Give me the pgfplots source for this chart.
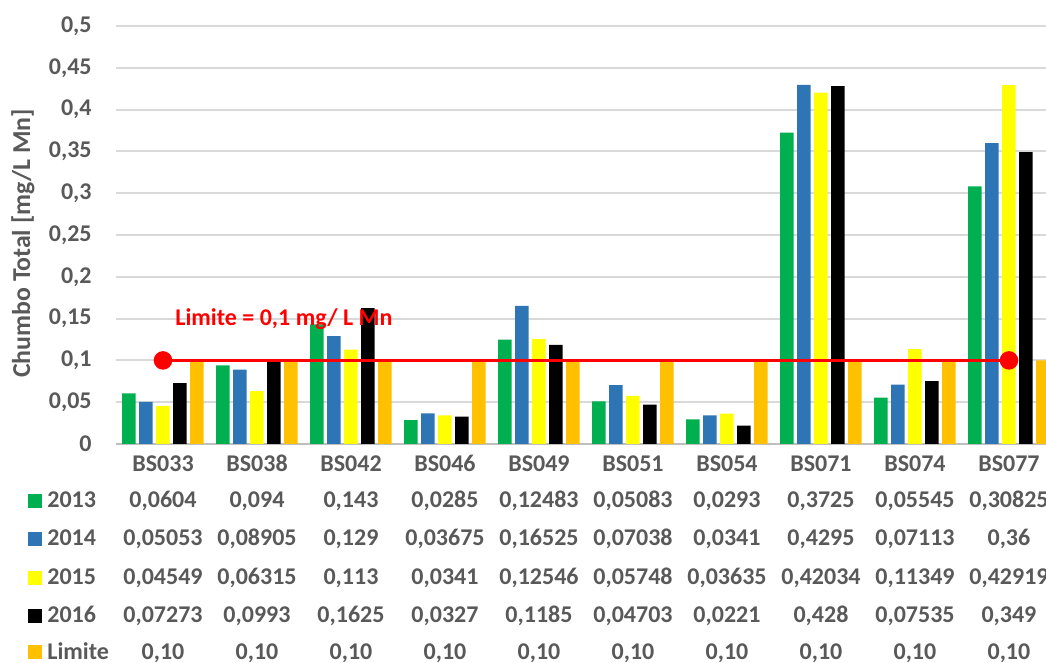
\documentclass[border=0pt]{standalone}
\usepackage{pgfplots}
\usepackage{pgfplotstable}
\pgfplotsset{compat=1.18}
\usepackage{fontspec}
\setmainfont{Carlito}

\definecolor{txt}{HTML}{595959}
\definecolor{c13}{HTML}{00B050}
\definecolor{c14}{HTML}{2E75B6}
\definecolor{c15}{HTML}{FFFF00}
\definecolor{c16}{HTML}{000000}
\definecolor{clim}{HTML}{FFC000}
\definecolor{gridc}{HTML}{D9D9D9}

% Chumbo total por ponto de coleta e ano
\pgfplotstableread{
x cat   y2013   y2014   y2015   y2016   lim
0 BS033 0.0604  0.05053 0.04549 0.07273 0.10
1 BS038 0.094   0.08905 0.06315 0.0993  0.10
2 BS042 0.143   0.129   0.113   0.1625  0.10
3 BS046 0.0285  0.03675 0.0341  0.0327  0.10
4 BS049 0.12483 0.16525 0.12546 0.1185  0.10
5 BS051 0.05083 0.07038 0.05748 0.04703 0.10
6 BS054 0.0293  0.0341  0.03635 0.0221  0.10
7 BS071 0.3725  0.4295  0.42034 0.428   0.10
8 BS074 0.05545 0.07113 0.11349 0.07535 0.10
9 BS077 0.30825 0.36    0.42919 0.349   0.10
}\data

\begin{document}
\begin{tikzpicture}[x=1pt,y=1pt,
  font=\fontsize{12}{14}\selectfont\bfseries,
  every node/.append style={text=txt}]
\useasboundingbox (-58,-109.5) rectangle (465,222);
\begin{axis}[
  at={(0,0)}, anchor=south west,
  width=465pt, height=209pt, scale only axis,
  ybar=1.75pt, bar width=6.75pt,
  xmin=-0.5, xmax=9.394, ymin=0, ymax=0.5,
  xtick=\empty,
  ytick={0,0.05,0.1,0.15,0.2,0.25,0.3,0.35,0.4,0.45,0.5},
  yticklabel style={/pgf/number format/use comma, /pgf/number format/fixed,
    /pgf/number format/precision=2, /pgf/number format/assume math mode=true,
    anchor=east, inner sep=0pt, xshift=-12pt, text=txt},
  major tick length=0pt,
  ymajorgrids, grid style={gridc, line width=1pt},
  axis x line*=bottom, axis y line*=left,
  x axis line style={draw=black!25, line width=1.2pt, -},
  y axis line style={draw=none},
  ylabel={Chumbo Total [mg/L Mn]},
  ylabel style={at={(axis description cs:-0.1,0.48)}, anchor=center, text=txt,
    font=\fontsize{12.9}{15}\selectfont\bfseries},
  clip=true,
]
\addplot[fill=c13, draw=none] table[x=x, y=y2013] {\data};
\addplot[fill=c14, draw=none] table[x=x, y=y2014] {\data};
\addplot[fill=c15, draw=none] table[x=x, y=y2015] {\data};
\addplot[fill=c16, draw=none] table[x=x, y=y2016] {\data};
\addplot[fill=clim, draw=none] table[x=x, y=lim] {\data};
% linha do limite de 0,1 mg/L
\addplot[sharp plot, red, line width=1.75pt, mark=*, mark size=3.75pt,
  mark options={fill=red, draw=red}, forget plot]
  coordinates {(0,0.1) (9,0.1)};
\node[text=red, anchor=base] at (axis cs:1.287,0.1423) {Limite = 0,1 mg/ L Mn};
\pgfplotsinvokeforeach{0,...,9}{\coordinate (c#1) at (axis cs:#1,0);}
\end{axis}

% tabela de dados sob o eixo
\begin{scope}[every node/.append style={inner sep=0pt}]
\foreach \i in {0,...,9}{
  \pgfplotstablegetelem{\i}{cat}\of\data
  \node[anchor=base] at (c\i |- 0,-13.85) {\pgfplotsretval};
}
\foreach \col/\yy in {y2013/-32, y2014/-51, y2015/-70.5, y2016/-89.5}{
  \foreach \i in {0,...,9}{
    \pgfplotstablegetelem{\i}{\col}\of\data
    \node[anchor=base] at (c\i |- 0,\yy)
      {\pgfmathprintnumber[fixed, precision=5, use comma, assume math mode=true]{\pgfplotsretval}};
  }
}
\foreach \i in {0,...,9}{
  \pgfplotstablegetelem{\i}{lim}\of\data
  \node[anchor=base] at (c\i |- 0,-107.6)
    {\pgfmathprintnumber[fixed, zerofill, precision=2, use comma, assume math mode=true]{\pgfplotsretval}};
}
% legenda das linhas da tabela
\foreach \lab/\clr/\yy in {2013/c13/-32, 2014/c14/-51, 2015/c15/-70.5, 2016/c16/-89.5, Limite/clim/-107.6}{
  \fill[\clr] (-44,\yy) rectangle (-37,\yy+7);
  \node[anchor=base west] at (-34.5,\yy) {\lab};
}
\end{scope}
\end{tikzpicture}
\end{document}
